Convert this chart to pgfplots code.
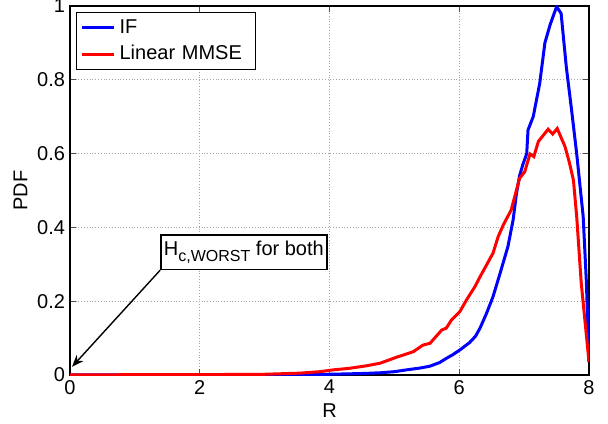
\documentclass[border=0pt]{standalone}
\usepackage{pgfplots}
\pgfplotsset{compat=1.18}
\usepackage{fontspec}
\setmainfont{Liberation Sans}
\usetikzlibrary{arrows.meta}

\begin{document}
\begin{tikzpicture}
\useasboundingbox (-35pt,-24pt) rectangle (269pt,187.5pt);
\begin{axis}[
  scale only axis,
  width=259.5pt, height=184.5pt,
  xmin=0, xmax=8, ymin=0, ymax=1,
  xtick={0,2,4,6,8}, ytick={0,0.2,0.4,0.6,0.8,1},
  yticklabels={0,0.2,0.4,0.6,0.8,1},
  tick align=inside, tick pos=both,
  major tick length=3pt,
  grid=major,
  grid style={densely dotted, gray!70, line width=0.5pt},
  axis line style={line width=0.8pt},
  tick style={line width=0.5pt, black!70},
  font=\fontsize{10}{12}\selectfont,
  /pgf/number format/assume math mode=true,
  xlabel={R}, ylabel={PDF},
  xlabel style={yshift=2pt},
  ylabel style={yshift=-2pt},
  xticklabel style={yshift=1pt},
  yticklabel style={xshift=1pt},
  legend style={at={(0.0116,0.984)}, anchor=north west, draw=black, line width=0.6pt,
    font=\fontsize{10}{12}\selectfont, inner xsep=2pt, inner ysep=1.5pt,
    row sep=0.5pt, text width=64pt},
  legend cell align=left,
  legend image code/.code={\draw[#1, line width=1.5pt] (0pt,0pt) -- (16pt,0pt);},
]
\addplot[blue, line width=1.5pt] coordinates {
(0,0.0005) (1,0.0005) (2,0.0005) (3,0.001) (3.5,0.001) (4,0.002) (4.5,0.004)
(4.78,0.006) (5.0,0.009) (5.19,0.014) (5.4,0.019) (5.55,0.024) (5.7,0.034)
(5.8,0.045) (5.9,0.055) (6.01,0.068) (6.16,0.088) (6.25,0.105) (6.32,0.127)
(6.42,0.167) (6.52,0.212) (6.63,0.276) (6.75,0.348) (6.83,0.42) (6.88,0.49)
(6.93,0.54) (6.98,0.57) (7.04,0.60) (7.06,0.664) (7.14,0.70) (7.24,0.79)
(7.32,0.90) (7.40,0.949) (7.50,0.998) (7.57,0.98) (7.65,0.835) (7.73,0.72)
(7.81,0.60) (7.91,0.43) (7.96,0.25) (8.0,0.035)
};
\addlegendentry{IF}
\addplot[red, line width=1.5pt] coordinates {
(0,0.0005) (2,0.001) (3,0.002) (3.54,0.005) (3.85,0.009) (4.06,0.014) (4.3,0.018)
(4.57,0.025) (4.78,0.032) (5.03,0.048) (5.29,0.063) (5.44,0.081) (5.55,0.086)
(5.73,0.122) (5.80,0.127) (5.88,0.149) (6.01,0.172) (6.11,0.203) (6.24,0.239)
(6.32,0.266) (6.52,0.33) (6.60,0.375) (6.68,0.407) (6.80,0.447) (6.93,0.533)
(7.01,0.551) (7.09,0.599) (7.15,0.592) (7.22,0.633) (7.37,0.666) (7.44,0.653)
(7.51,0.668) (7.63,0.619) (7.70,0.574) (7.76,0.528) (7.81,0.43) (7.88,0.25)
(8.0,0.035)
};
\addlegendentry{Linear MMSE}
\node[draw=black, line width=0.8pt, fill=white, anchor=north west, inner xsep=1.5pt, inner ysep=3pt,
  font=\fontsize{10}{12}\selectfont] (ann) at (axis cs:1.39,0.382)
  {H{\fontsize{8}{9}\selectfont\raisebox{-3pt}{c,WORST}} for both};
\draw[-{Stealth[length=6pt,width=4.5pt]}, line width=0.7pt] (ann.south west) -- (axis cs:0.03,0.022);
\end{axis}
\end{tikzpicture}
\end{document}
